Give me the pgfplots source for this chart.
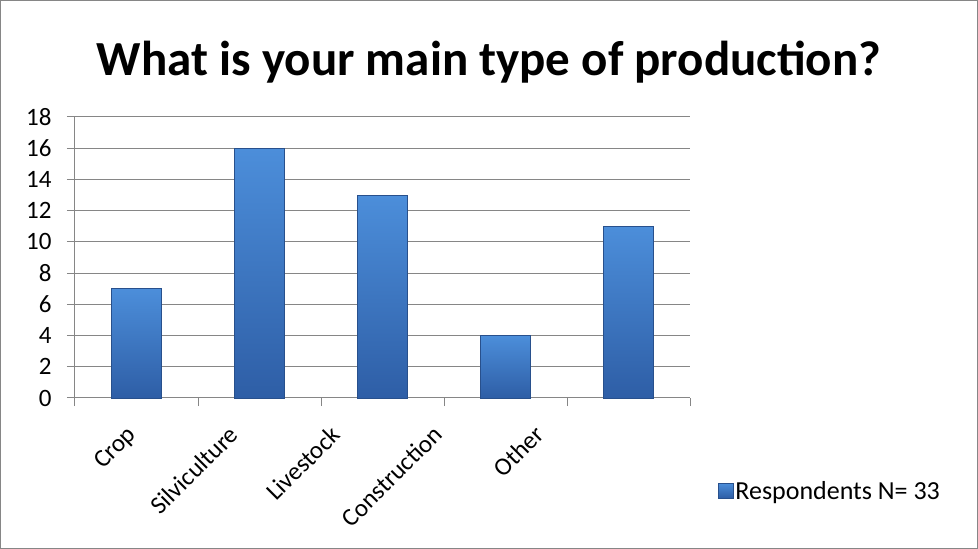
\documentclass[border=0pt]{standalone}
\usepackage{pgfplots}
\pgfplotsset{compat=1.18}
\usepackage{fontspec}
\setmainfont{Carlito}
\definecolor{gridgray}{RGB}{134,134,134}
\definecolor{bardark}{RGB}{46,94,166}
\definecolor{barmid}{RGB}{76,142,218}
\definecolor{barline}{RGB}{40,80,140}
\definecolor{framegray}{RGB}{134,134,134}
\pgfplotsset{mybar/.style={draw=barline, line width=0.6pt, top color=barmid, bottom color=bardark, bar shift=0pt}}
\begin{document}
\begin{tikzpicture}
\draw[framegray, line width=1pt] (0.5pt,0.5pt) rectangle (977.5pt,548.5pt);
\node[font=\fontsize{49}{55}\selectfont\bfseries, anchor=center] at (489pt,487pt) {What is your main type of production?};
\begin{axis}[
  at={(75pt,151pt)}, anchor=south west,
  scale only axis, width=615pt, height=281pt,
  xmin=-0.5, xmax=4.5, ymin=0, ymax=18,
  ytick={0,2,...,18},
  xtick={0,1,2,3,4},
  xticklabels={},
  minor xtick={-0.5,0.5,1.5,2.5,3.5,4.5},
  major x tick style={draw=none},
  minor tick length=8pt,
  major tick length=8pt,
  tick align=outside,
  tick style={gridgray, line width=1pt},
  ymajorgrids, grid style={gridgray, line width=1pt},
  axis x line*=bottom, axis y line*=left,
  axis line style={gridgray, line width=1pt, -},
  tick label style={font=\fontsize{25}{30}\selectfont},
  /pgf/number format/assume math mode=true,
  yticklabel style={xshift=-12pt},
  ybar, bar width=50pt,
  legend style={draw=none, at={(1.04,-0.331)}, anchor=west, font=\fontsize{26}{31}\selectfont, fill=none},
  legend image code/.code={\shade[top color=barmid, bottom color=bardark, draw=barline] (0pt,-7pt) rectangle (15pt,8pt);},
  clip=false,
]
\addplot[mybar] coordinates {(0,7)};
\addlegendentry{Respondents N= 33}
\addplot[mybar, forget plot] coordinates {(1,16)};
\addplot[mybar, forget plot] coordinates {(2,13)};
\addplot[mybar, forget plot] coordinates {(3,4)};
\addplot[mybar, forget plot] coordinates {(4,11)};
\foreach \i/\lab in {0/Crop,1/Silviculture,2/Livestock,3/Construction,4/Other}{
  \edef\temp{\noexpand\node[xshift={-11pt-21pt*\i}, yshift=-26pt, rotate=45, anchor=north east, inner sep=0pt, font=\noexpand\fontsize{25}{30}\noexpand\selectfont] at (axis cs:\i,0) {\lab};}
  \temp
}
\end{axis}
\end{tikzpicture}
\end{document}
